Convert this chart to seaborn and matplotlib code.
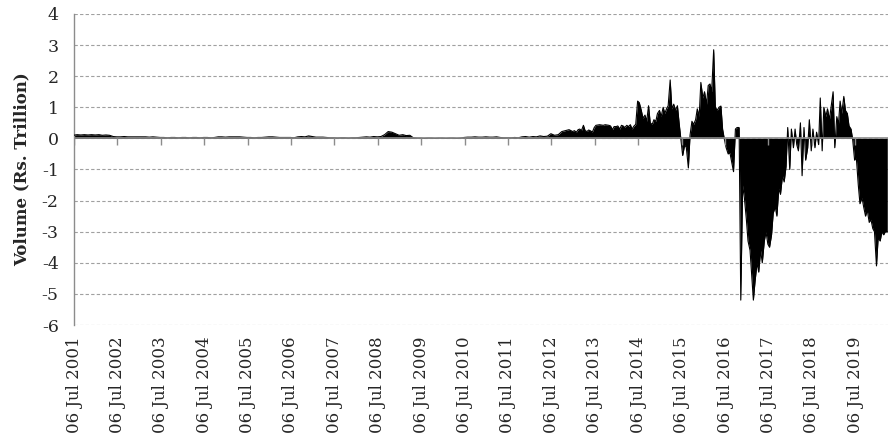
import numpy as np
import pandas as pd
import matplotlib
matplotlib.use("Agg")
import matplotlib.pyplot as plt
import seaborn as sns

sns.set_style('white')
plt.rcParams['font.family'] = ['DejaVu Serif']
plt.rcParams['axes.unicode_minus'] = False

# monthly values, Jul 2001 - Dec 2012 (Rs. trillion)
quiet_vals = [
    0.10, 0.12, 0.11, 0.12, 0.11, 0.12,                                  # 2001 (Jul-Dec)
    0.11, 0.12, 0.10, 0.11, 0.10, 0.06, 0.05, 0.05, 0.06, 0.05, 0.05, 0.05,  # 2002
    0.05, 0.05, 0.05, 0.04, 0.05, 0.04, 0.03, 0.03, 0.02, 0.03, 0.03, 0.02,  # 2003
    0.03, 0.03, 0.02, 0.03, 0.03, 0.02, 0.03, 0.03, 0.02, 0.03, 0.05, 0.05,  # 2004
    0.04, 0.05, 0.05, 0.05, 0.05, 0.04, 0.03, 0.03, 0.02, 0.03, 0.03, 0.04,  # 2005
    0.05, 0.05, 0.04, 0.03, 0.03, 0.03, 0.03, 0.02, 0.05, 0.06, 0.05, 0.08,  # 2006
    0.06, 0.04, 0.04, 0.04, 0.03, 0.02, 0.02, 0.01, 0.02, 0.02, 0.01, 0.02,  # 2007
    0.02, 0.03, 0.04, 0.05, 0.04, 0.06, 0.05, 0.06, 0.12, 0.22, 0.20, 0.15,  # 2008
    0.10, 0.12, 0.09, 0.10, 0.02, 0.01, 0.01, 0.00, 0.01, 0.01, 0.00, 0.01,  # 2009
    0.01, 0.00, 0.01, 0.01, 0.00, 0.01, 0.03, 0.04, 0.04, 0.05, 0.04, 0.04,  # 2010
    0.05, 0.04, 0.04, 0.05, 0.03, 0.02, 0.02, 0.02, 0.03, 0.02, 0.05, 0.06,  # 2011
    0.04, 0.06, 0.05, 0.08, 0.06, 0.07, 0.15, 0.10, 0.12, 0.22, 0.25, 0.28,  # 2012
]

# semi-monthly values (1st and 15th), Jan 2013 - Apr 2020
active_vals = [
    0.22, 0.25, 0.20, 0.28, 0.30, 0.25, 0.42, 0.25, 0.22, 0.27, 0.24, 0.20,  # 2013 H1
    0.35, 0.42, 0.43, 0.44, 0.43, 0.42, 0.44, 0.43, 0.42, 0.40, 0.28, 0.38,  # 2013 H2
    0.38, 0.40, 0.30, 0.42, 0.40, 0.35, 0.42, 0.38, 0.44, 0.30, 0.40, 0.45,  # 2014 H1
    1.20, 1.15, 0.90, 0.65, 0.75, 0.55, 1.05, 0.50, 0.45, 0.60, 0.55, 0.80,  # 2014 H2
    0.90, 0.70, 1.00, 0.80, 0.95, 1.05, 1.88, 0.95, 1.10, 0.90, 1.05, 0.50,  # 2015 H1
    -0.05, -0.55, -0.20, -0.30, -0.95, 0.10, 0.55, 0.45, 0.60, 0.95, 0.70, 1.80,  # 2015 H2
    1.30, 1.50, 1.10, 1.70, 1.75, 1.50, 2.85, 1.00, 0.90, 1.00, 1.04, 0.30,  # 2016 H1
    -0.05, -0.30, -0.50, -0.45, -0.80, -1.07, 0.30, 0.35, 0.35, -5.20, -1.50, -1.90,  # 2016 H2
    -2.60, -3.30, -3.60, -4.40, -5.20, -4.60, -4.00, -4.30, -3.60, -4.00, -3.30, -3.00,  # 2017 H1
    -3.40, -3.50, -3.10, -2.40, -2.20, -2.50, -1.60, -1.80, -1.20, -1.40, -0.90, 0.35,  # 2017 H2
    -1.00, 0.30, -0.30, 0.30, -0.20, -0.40, 0.50, -1.20, 0.35, -0.70, -0.30, 0.60,  # 2018 H1
    -0.40, 0.30, -0.30, 0.20, -0.20, 1.30, -0.40, 1.00, 0.70, 0.95, 0.60, 1.00,  # 2018 H2
    1.50, -0.30, 0.70, 0.45, 1.20, 0.80, 1.35, 0.90, 0.80, 0.40, 0.30, -0.05,  # 2019 H1
    -0.70, -0.60, -1.50, -2.10, -1.90, -2.20, -2.50, -2.30, -2.70, -2.60, -2.90, -3.00,  # 2019 H2
    -4.10, -3.20, -3.30, -3.00, -3.10, -3.00, -3.00,  # 2020 Jan - Apr
]

tick_years = list(range(2001, 2020))
y_ticks = list(range(-6, 5))

quiet_dates = pd.date_range("2001-07-01", periods=len(quiet_vals), freq="MS")
active_dates = pd.date_range("2013-01-01", periods=len(active_vals), freq="SMS")
df = pd.DataFrame({
    "date": quiet_dates.append(active_dates),
    "volume": quiet_vals + active_vals,
})

fig = plt.figure(figsize=(8.88, 4.45), dpi=100)
ax = fig.add_axes([74 / 888, 1 - 325 / 445, 814 / 888, 311 / 445])

ax.fill_between(df["date"], df["volume"], 0, color="black", lw=0, zorder=2)
sns.lineplot(data=df, x="date", y="volume", color="black", lw=0.8, ax=ax, zorder=3)

# horizontal axis line at zero with downward tick marks
grey = "#8c8c8c"
tick_dates = [pd.Timestamp(f"{y}-07-06") for y in tick_years]
ax.axhline(0, color=grey, lw=1.2, zorder=4)
ax.plot(tick_dates, [0] * len(tick_dates), ls="none", marker=3, ms=5, mew=1,
        color=grey, zorder=4)

ax.set_xlim(pd.Timestamp("2001-07-06"), pd.Timestamp("2020-04-07"))
ax.set_ylim(-6, 4)
ax.set_yticks(y_ticks)
ax.set_xticks(tick_dates)
ax.set_xticklabels([d.strftime("%d %b %Y") for d in tick_dates], rotation=90)

ax.yaxis.grid(True, ls=(0, (3, 2)), color="#a0a0a0", lw=0.8)
ax.xaxis.grid(False)
for s in ["top", "right", "bottom"]:
    ax.spines[s].set_visible(False)
ax.spines["left"].set_color(grey)
ax.spines["left"].set_linewidth(1)

ax.tick_params(axis="y", length=5, width=0.8, color=grey, pad=6, labelsize=12.5)
ax.tick_params(axis="x", length=0, pad=8, labelsize=12)

ax.set_xlabel("")
ax.set_ylabel("Volume (Rs. Trillion)", fontsize=12, fontweight="bold", labelpad=8)

fig.savefig("out.png", dpi=100)
plt.close(fig)
